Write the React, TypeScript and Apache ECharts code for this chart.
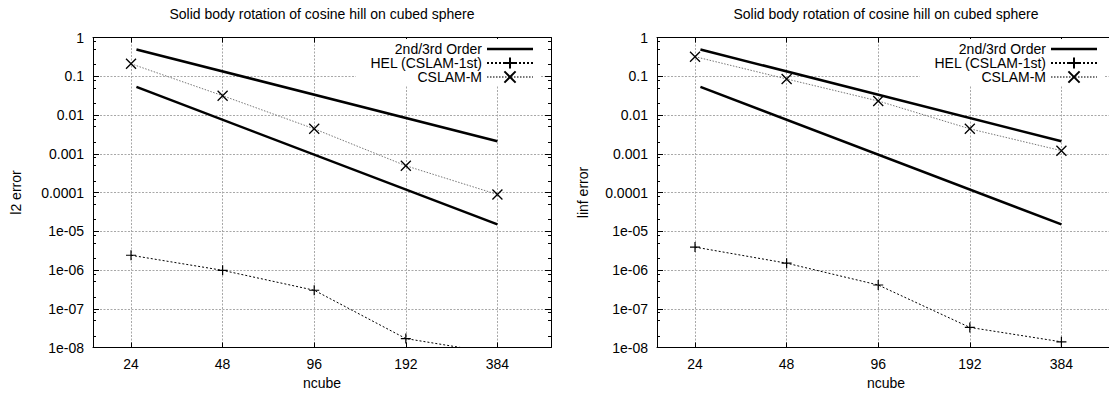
import React, { useEffect, useRef } from "react";
import * as echarts from "echarts";

const ncube = [24, 48, 96, 192, 384];
const xTicks = [24, 48, 96, 192, 384];
const refX = [25, 384];
const secondOrder = [0.49, 0.0021];
const thirdOrder = [0.053, 0.000015];
const l2Hel = [2.4e-6, 9.8e-7, 3.0e-7, 1.7e-8, 7e-9];
const l2Cslam = [0.21, 0.0315, 0.0044, 0.00049, 0.000089];
const linfHel = [3.9e-6, 1.5e-6, 4.1e-7, 3.3e-8, 1.4e-8];
const linfCslam = [0.32, 0.085, 0.023, 0.0044, 0.0012];
const yDecades = [1e-8, 1e-7, 1e-6, 1e-5, 1e-4, 1e-3, 1e-2, 1e-1, 1];
const minorMultipliers = [2, 5, 8];
const titleText = "Solid body rotation of cosine hill on cubed sphere";
const legendNames = ["2nd/3rd Order", "HEL (CSLAM-1st)", "CSLAM-M"];

const FONT = "Liberation Sans, Arial, Helvetica, sans-serif";

const yMinor: number[] = [];
yDecades.slice(0, -1).forEach((d) => minorMultipliers.forEach((m) => yMinor.push(d * m)));

function fmtY(v: number): string {
  const e = Math.round(Math.log10(v));
  if (e >= 0) return String(Math.pow(10, e));
  if (e >= -4) return "0." + "0".repeat(-e - 1) + "1";
  const a = -e;
  return "1e-" + (a < 10 ? "0" + a : String(a));
}

export default function App() {
  const ref = useRef<HTMLDivElement>(null);
  useEffect(() => {
    if (!ref.current) return;
    const chart = echarts.init(ref.current, undefined, { renderer: "svg" });
    const panels = [
      { left: 93, yName: "l2 error", nameGap: 70, hel: l2Hel, cslam: l2Cslam, legendRight: 569 },
      { left: 657, yName: "linf error", nameGap: 67, hel: linfHel, cslam: linfCslam, legendRight: 5 },
    ];
    const W = 458;
    const top = 37.5;
    const H = 310;
    const grids: any[] = [];
    const xAxes: any[] = [];
    const yAxes: any[] = [];
    const series: any[] = [];
    const titles: any[] = [];
    const legends: any[] = [];
    const splitStyle = { color: "#a8a8a8", width: 1, type: [2, 1.5] };
    const lineAxis = { show: true, lineStyle: { color: "#000", width: 1 } };
    panels.forEach((p, gi) => {
      grids.push({ left: p.left, top, width: W, height: H, containLabel: false, outerBoundsMode: "none" });
      titles.push({
        text: titleText,
        left: p.left + W / 2,
        top: 7,
        textAlign: "center",
        padding: 0,
        textStyle: { fontFamily: FONT, fontSize: 14, fontWeight: "normal", color: "#000" },
      });
      const xBase = {
        type: "log",
        logBase: 2,
        min: 18,
        max: 576,
        gridIndex: gi,
        axisLine: lineAxis,
      };
      xAxes.push({
        ...xBase,
        position: "bottom",
        name: "ncube",
        nameLocation: "middle",
        nameGap: 28,
        nameTextStyle: { fontFamily: FONT, fontSize: 14, color: "#000" },
        axisTick: { show: true, inside: true, length: 5, customValues: xTicks, lineStyle: { color: "#000" } },
        axisLabel: { show: true, customValues: xTicks, margin: 9, fontFamily: FONT, fontSize: 14, color: "#000" },
        splitLine: { show: true, lineStyle: splitStyle },
        minorTick: { show: false },
      });
      xAxes.push({
        ...xBase,
        position: "top",
        axisTick: { show: true, inside: true, length: 5, customValues: xTicks, lineStyle: { color: "#000" } },
        axisLabel: { show: false },
        splitLine: { show: false },
      });
      const yBase = {
        type: "log",
        logBase: 10,
        min: 1e-8,
        max: 1,
        interval: 1,
        gridIndex: gi,
      };
      yAxes.push({
        ...yBase,
        position: "left",
        name: p.yName,
        nameLocation: "middle",
        nameGap: p.nameGap,
        nameRotate: 90,
        nameTextStyle: { fontFamily: FONT, fontSize: 14, color: "#000" },
        axisLine: lineAxis,
        axisTick: { show: true, inside: true, length: 6, customValues: yDecades, lineStyle: { color: "#000" } },
        axisLabel: {
          show: true,
          customValues: yDecades,
          margin: 9,
          formatter: (v: number) => fmtY(v),
          fontFamily: FONT,
          fontSize: 14,
          color: "#000",
        },
        splitLine: { show: true, lineStyle: splitStyle },
      });
      yAxes.push({
        ...yBase,
        position: "right",
        axisLine: lineAxis,
        axisTick: { show: true, inside: true, length: 6, customValues: yDecades, lineStyle: { color: "#000" } },
        axisLabel: { show: false },
        splitLine: { show: false },
      });
      yAxes.push({
        ...yBase,
        position: "left",
        axisLine: { show: false },
        axisTick: { show: true, inside: true, length: 3, customValues: yMinor, lineStyle: { color: "#000" } },
        axisLabel: { show: false },
        splitLine: { show: false },
      });
      yAxes.push({
        ...yBase,
        position: "right",
        axisLine: { show: false },
        axisTick: { show: true, inside: true, length: 3, customValues: yMinor, lineStyle: { color: "#000" } },
        axisLabel: { show: false },
        splitLine: { show: false },
      });
      const xi = gi * 2;
      const yi = gi * 4;
      const refStyle = { color: "#000", width: 2.5, type: "solid" };
      series.push({
        name: legendNames[0],
        type: "line",
        xAxisIndex: xi,
        yAxisIndex: yi,
        showSymbol: false,
        symbol: "none",
        data: refX.map((x, i) => [x, secondOrder[i]]),
        lineStyle: refStyle,
        itemStyle: { color: "#000" },
      });
      series.push({
        name: legendNames[0],
        type: "line",
        xAxisIndex: xi,
        yAxisIndex: yi,
        showSymbol: false,
        symbol: "none",
        data: refX.map((x, i) => [x, thirdOrder[i]]),
        lineStyle: refStyle,
        itemStyle: { color: "#000" },
      });
      series.push({
        name: legendNames[1],
        type: "line",
        xAxisIndex: xi,
        yAxisIndex: yi,
        symbol: "path://M5,0L5,10M0,5L10,5",
        symbolSize: 10,
        showSymbol: true,
        clip: true,
        data: ncube.map((x, i) => [x, p.hel[i]]),
        lineStyle: { color: "#000", width: 1, type: [2, 2] },
        itemStyle: { color: "transparent", borderColor: "#000", borderWidth: 1.2 },
      });
      series.push({
        name: legendNames[2],
        type: "line",
        xAxisIndex: xi,
        yAxisIndex: yi,
        symbol: "path://M0,0L10,10M0,10L10,0",
        symbolSize: 10,
        showSymbol: true,
        clip: true,
        data: ncube.map((x, i) => [x, p.cslam[i]]),
        lineStyle: { color: "#777", width: 1, type: [1.5, 1.5] },
        itemStyle: { color: "transparent", borderColor: "#000", borderWidth: 1.3 },
      });
      legends.push({
        orient: "vertical",
        right: p.legendRight,
        top: 39,
        align: "right",
        itemWidth: 46,
        itemHeight: 14,
        itemGap: 0,
        padding: [3, 6, 1, 14],
        backgroundColor: "#fff",
        selectedMode: false,
        data: [
          { name: legendNames[0], icon: "path://M0,0H46V2.5H0Z", itemStyle: { color: "#000" } },
          { name: legendNames[1] },
          { name: legendNames[2] },
        ],
        textStyle: { fontFamily: FONT, fontSize: 14, color: "#000" },
      });
    });
    chart.setOption({
      animation: false,
      backgroundColor: "#fff",
      title: titles,
      legend: legends,
      grid: grids,
      xAxis: xAxes,
      yAxis: yAxes,
      series,
    });
    return () => chart.dispose();
  }, []);
  return (
    <div
      ref={ref}
      style={{ position: "fixed", left: 0, top: 0, width: 1109, height: 393, background: "#fff" }}
    />
  );
}
